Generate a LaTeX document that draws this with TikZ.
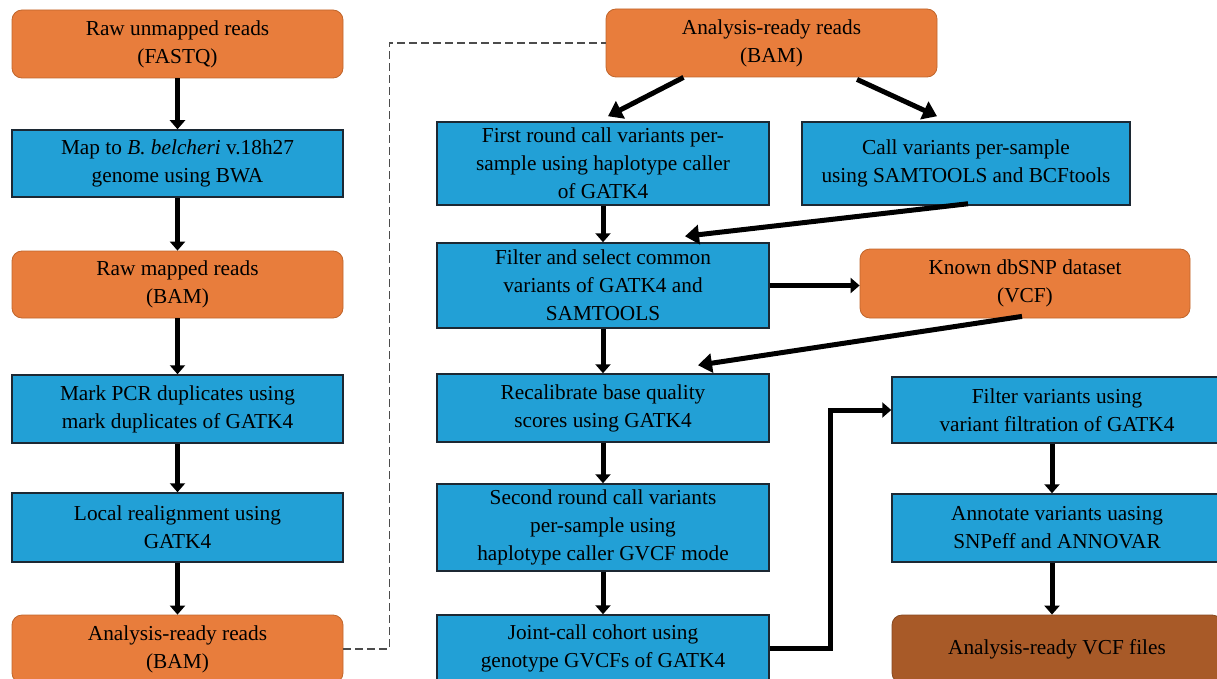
\documentclass[tikz,border=0pt]{standalone}
\usepackage{fontspec}
\setmainfont{Liberation Serif}
\usetikzlibrary{arrows.meta,calc}
\definecolor{orbox}{HTML}{E87D3C}
\definecolor{orline}{HTML}{C0652B}
\definecolor{blbox}{HTML}{22A0D6}
\definecolor{blline}{HTML}{1C2833}
\definecolor{brbox}{HTML}{A85A28}
\begin{document}
\begin{tikzpicture}[x=1pt,y=-1pt,
  txt/.style={align=center,font=\fontsize{21.3}{28}\selectfont,text=black,inner sep=0pt},
  obox/.style={txt,fill=orbox,draw=orline,line width=0.8pt,rounded corners=10pt},
  bbox/.style={txt,fill=blbox,draw=blline,line width=1.5pt},
  vbox/.style={txt,fill=brbox,draw=brbox!80!black,line width=0.8pt,rounded corners=10pt},
  flow/.style={line width=5pt,-{Triangle[width=15pt,length=9pt]}},
  flowa/.style={line width=5pt,-{Triangle[width=19pt,length=14pt]}},
  link/.style={dash pattern=on 8pt off 4pt,draw=black!70,line width=1.4pt}]
\useasboundingbox (0,0) rectangle (1217,679);
\clip (0,0) rectangle (1217,679);
% left column
\node[obox,minimum width=331pt,minimum height=68pt] (n1) at (177.5,44) {Raw unmapped reads\\(FASTQ)};
\node[bbox,minimum width=331pt,minimum height=67pt] (n2) at (177.5,163.5) {Map to \textit{B. belcheri} v.18h27\\genome using BWA};
\node[obox,minimum width=331pt,minimum height=67pt] (n3) at (177.5,284.5) {Raw mapped reads\\(BAM)};
\node[bbox,minimum width=331pt,minimum height=68pt] (n4) at (177.5,409) {Mark PCR duplicates using\\mark duplicates of GATK4};
\node[bbox,minimum width=331pt,minimum height=69pt] (n5) at (177.5,527.5) {Local realignment using\\GATK4};
\node[obox,minimum width=331pt,minimum height=68pt] (n6) at (177.5,649) {Analysis-ready reads\\(BAM)};
% middle column
\node[obox,minimum width=331pt,minimum height=68pt] (m0) at (771.5,43) {Analysis-ready reads\\(BAM)};
\node[bbox,minimum width=332pt,minimum height=83pt] (m1) at (603,163.5) {First round call variants per-\\sample using haplotype caller\\of GATK4};
\node[bbox,minimum width=332pt,minimum height=85pt] (m2) at (603,285.5) {Filter and select common\\variants of GATK4 and\\SAMTOOLS};
\node[bbox,minimum width=332pt,minimum height=68pt] (m3) at (603,408) {Recalibrate base quality\\scores using GATK4};
\node[bbox,minimum width=332pt,minimum height=87pt] (m4) at (603,527.5) {Second round call variants\\per-sample using\\haplotype caller GVCF mode};
\node[bbox,minimum width=332pt,minimum height=66pt] (m5) at (603,648) {Joint-call cohort using\\genotype GVCFs of GATK4};
% right column
\node[bbox,minimum width=328pt,minimum height=83pt] (r1) at (966,163.5) {Call variants per-sample\\using SAMTOOLS and BCFtools};
\node[obox,minimum width=330pt,minimum height=69pt] (r2) at (1025,283.5) {Known dbSNP dataset\\(VCF)};
\node[bbox,minimum width=330pt,minimum height=66pt] (r3) at (1057,410) {Filter variants using\\variant filtration of GATK4};
\node[bbox,minimum width=330pt,minimum height=68pt] (r4) at (1057,528) {Annotate variants uasing\\SNPeff and ANNOVAR};
\node[vbox,minimum width=330pt,minimum height=68pt] (r5) at (1057,649) {Analysis-ready VCF files};
% connectors left
\draw[flow] (n1.south) -- (n2.north);
\draw[flow] (n2.south) -- (n3.north);
\draw[flow] (n3.south) -- (n4.north);
\draw[flow] (n4.south) -- (n5.north);
\draw[flow] (n5.south) -- (n6.north);
\draw[link] (n6.east) -- ++(46,0) |- (m0.west);
% connectors middle/right
\draw[flowa] ([xshift=-88pt]m0.south) -- ([xshift=5pt,yshift=5pt]m1.north);
\draw[flowa] ([xshift=85.5pt,yshift=-2pt]m0.south) -- ([xshift=-29pt,yshift=5pt]r1.north);
\draw[flow] (m1.south) -- (m2.north);
\draw[flowa] ([xshift=2pt,yshift=2pt]r1.south) -- ([xshift=82pt,yshift=6pt]m2.north);
\draw[flow] (m2.east) -- (m2.east -| r2.west);
\draw[flowa] ([xshift=-3pt,yshift=2pt]r2.south) -- ([xshift=95pt,yshift=8pt]m3.north);
\draw[flow] (m2.south) -- (m3.north);
\draw[flow] (m3.south) -- (m4.north);
\draw[flow] (m4.south) -- (m5.north);
\draw[flow] (m5.east) -- ++(61,0) |- (r3.west);
\draw[flow] ([xshift=-5pt]r3.south) -- ([xshift=-5pt]r4.north);
\draw[flow] ([xshift=-5pt]r4.south) -- ([xshift=-5pt]r5.north);
\end{tikzpicture}
\end{document}
